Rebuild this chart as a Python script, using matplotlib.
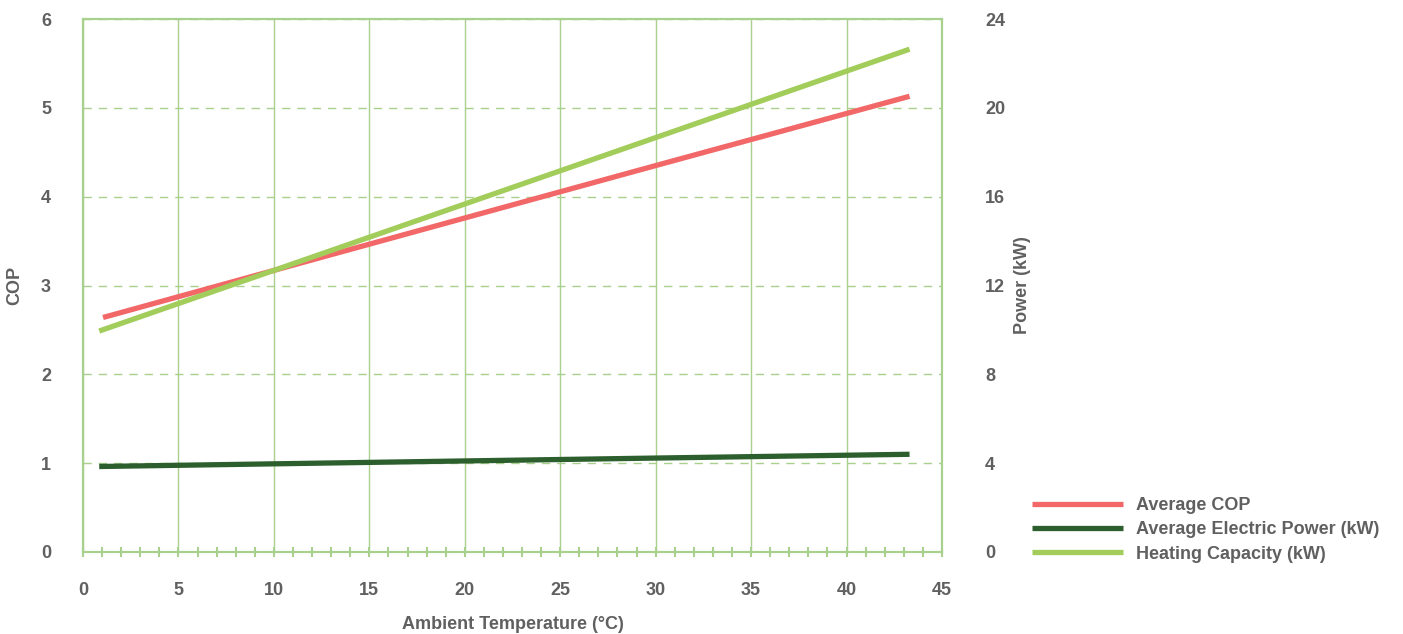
import matplotlib.pyplot as plt
from matplotlib.ticker import MultipleLocator

# Data
temp_cop = [1.05, 10, 20, 30, 43.3]
avg_cop = [2.64, 3.17, 3.76, 4.35, 5.13]

temp_power = [0.85, 10, 20, 30, 43.3]
heating_kw = [9.95, 12.68, 15.67, 18.66, 22.64]
electric_kw = [3.85, 3.97, 4.10, 4.23, 4.40]

# Styles
RED = '#F26868'
DARK = '#2C5F2D'
LIGHT = '#A2CD5A'
GRID = '#A9D18E'
TXT = '#606060'

plt.rcParams['font.family'] = ['Liberation Sans', 'DejaVu Sans']
plt.rcParams['font.weight'] = 'bold'

fig = plt.figure(figsize=(14.03, 6.34), dpi=100)
ax = fig.add_axes([83 / 1403, 1 - 552 / 634, (942 - 83) / 1403, (552 - 19) / 634])
ax2 = ax.twinx()

ax.plot(temp_cop, avg_cop, color=RED, lw=3.8, solid_capstyle='butt', label='Average COP', zorder=3)
ax2.plot(temp_power, electric_kw, color=DARK, lw=3.8, solid_capstyle='butt', label='Average Electric Power (kW)', zorder=3)
ax2.plot(temp_power, heating_kw, color=LIGHT, lw=3.8, solid_capstyle='butt', label='Heating Capacity (kW)', zorder=3)

ax.set_xlim(0, 45)
ax.set_ylim(0, 6)
ax2.set_ylim(0, 24)
ax.xaxis.set_major_locator(MultipleLocator(5))
ax.xaxis.set_minor_locator(MultipleLocator(1))
ax.yaxis.set_major_locator(MultipleLocator(1))
ax2.yaxis.set_major_locator(MultipleLocator(4))

for a in (ax, ax2):
    for s in a.spines.values():
        s.set_color(GRID)
        s.set_linewidth(1.5)

ax.grid(axis='x', color=GRID, lw=1.0)
ax.grid(axis='y', color=GRID, lw=1.0, ls=(0, (6, 5)))
ax.set_axisbelow(True)

ax.tick_params(axis='x', which='both', direction='inout', length=7, width=1.5, color=GRID,
               pad=18, labelsize=13, labelcolor=TXT)
ax.tick_params(axis='y', length=0, pad=23, labelsize=13, labelcolor=TXT)
ax2.tick_params(axis='y', length=0, pad=31, labelsize=13, labelcolor=TXT)

ax.set_xlabel('Ambient Temperature (°C)', fontsize=13, color=TXT, fontweight='bold', labelpad=12)
ax.set_ylabel('COP', fontsize=13, color=TXT, fontweight='bold')
ax.yaxis.set_label_coords((23 - 83) / 859, 0.5)
ax2.set_ylabel('Power (kW)', fontsize=13, color=TXT, fontweight='bold')
ax2.yaxis.set_label_coords((1014 - 83) / 859, 0.5)

h1, l1 = ax.get_legend_handles_labels()
h2, l2 = ax2.get_legend_handles_labels()
fig.legend(h1 + h2, l1 + l2, loc='center left', bbox_to_anchor=(1016 / 1403, 1 - 530 / 634),
           frameon=False, fontsize=13, handlelength=5.0, handletextpad=0.75,
           labelspacing=0.4, labelcolor=TXT)

fig.savefig('out.png', dpi=100)
